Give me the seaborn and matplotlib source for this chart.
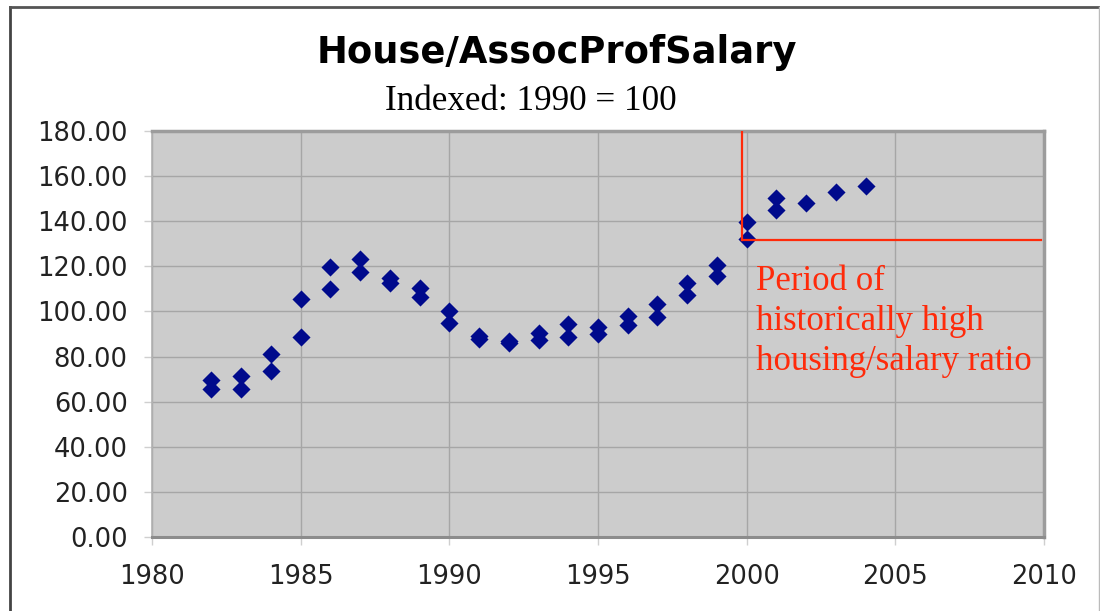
import numpy as np
import pandas as pd
import matplotlib
matplotlib.use('Agg')
import matplotlib.pyplot as plt
import seaborn as sns
from matplotlib.lines import Line2D
from matplotlib.ticker import FormatStrFormatter

# house price / assoc. prof salary, indexed 1990 = 100 (two estimates per year)
years = list(range(1982, 2005))
index_upper = [69.6, 71.5, 81.1, 105.4, 119.8, 123.3, 114.7, 110.3, 100.0, 89.2,
               87.0, 90.6, 94.3, 93.2, 98.0, 103.3, 112.5, 120.6, 139.8, 150.2,
               147.9, 153.1, 155.6]
index_lower = [65.6, 65.6, 73.6, 88.7, 109.8, 117.4, 112.7, 106.3, 94.7, 87.8,
               86.2, 87.3, 88.8, 89.9, 94.0, 97.7, 107.3, 115.7, 132.0, 145.0,
               np.nan, np.nan, np.nan]

x_ticks = [1980, 1985, 1990, 1995, 2000, 2005, 2010]
y_ticks = [0, 20, 40, 60, 80, 100, 120, 140, 160, 180]

# "historically high" box
period_start = 1999.85
period_end = 2009.9
period_level = 131.5
period_top = 179.5
period_label = "Period of\nhistorically high\nhousing/salary ratio"

df = pd.DataFrame({
    'year': years * 2,
    'index': index_upper + index_lower,
}).dropna()

fig = plt.figure(figsize=(11, 6.11), dpi=100)
ax = fig.add_axes([152 / 1100, 1 - 537 / 611, (1044 - 152) / 1100, (537 - 131) / 611])
ax.set_facecolor('#cccccc')

sns.scatterplot(data=df, x='year', y='index', marker='D', s=85, color='#000a8c',
                linewidth=0, ax=ax, zorder=3)

red = '#ff2a0a'
ax.plot([period_start, period_start], [period_level, period_top], color=red, lw=1.6, zorder=4)
ax.plot([period_start, period_end], [period_level, period_level], color=red, lw=1.6, zorder=4)
ax.text(period_start + 0.45, 120.5, period_label, color=red, fontsize=25,
        family='Liberation Serif', va='top', ha='left', linespacing=1.27, zorder=5)

ax.set_xlim(1980, 2010)
ax.set_ylim(0, 180)
ax.set_xticks(x_ticks)
ax.set_yticks(y_ticks)
ax.yaxis.set_major_formatter(FormatStrFormatter('%.2f'))
ax.grid(True, color='#a6a6a6', lw=1.0, zorder=0)
ax.set_axisbelow(True)
ax.set_xlabel('')
ax.set_ylabel('')

for side in ['top', 'right']:
    ax.spines[side].set_color('#9c9c9c')
    ax.spines[side].set_linewidth(2.5)
ax.spines['left'].set_color('#b0b0b0')
ax.spines['left'].set_linewidth(1.2)
ax.spines['bottom'].set_color('#8c8c8c')
ax.spines['bottom'].set_linewidth(2.2)

ax.tick_params(axis='both', colors='#cfcfcf', labelcolor='#222222', labelsize=18.5,
               length=5.5, width=1.0)
ax.tick_params(axis='x', pad=14)
ax.tick_params(axis='y', pad=12)

fig.text(557 / 1100, 1 - 63 / 611, 'House/AssocProfSalary', fontsize=26.6,
         fontweight='bold', family='DejaVu Sans', ha='center', va='baseline')
fig.text(531 / 1100, 1 - 110 / 611, 'Indexed: 1990 = 100', fontsize=25.3,
         family='Liberation Serif', ha='center', va='baseline')

# chart frame (cut off at right and bottom)
fig.add_artist(Line2D([9.5 / 1100, 9.5 / 1100], [0, 1 - 7 / 611], color='#444444', lw=2.0))
fig.add_artist(Line2D([9.5 / 1100, 1], [1 - 7 / 611, 1 - 7 / 611], color='#555555', lw=2.0))
fig.add_artist(Line2D([1098.5 / 1100, 1098.5 / 1100], [0, 1 - 7 / 611], color='#bbbbbb', lw=1.0))

fig.savefig('out.png', dpi=100)
